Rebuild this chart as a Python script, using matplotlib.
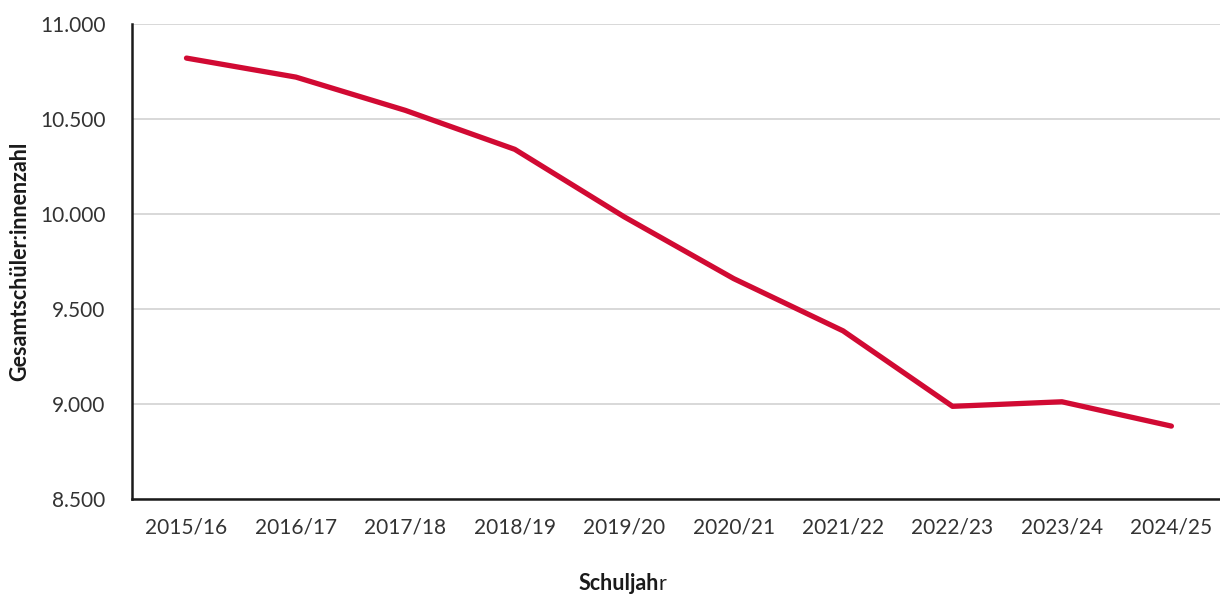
import matplotlib
matplotlib.use('Agg')
import matplotlib.pyplot as plt
from matplotlib.ticker import FuncFormatter

# Schuljahre und Gesamtschüler:innenzahl
school_years = ['2015/16', '2016/17', '2017/18', '2018/19', '2019/20',
                '2020/21', '2021/22', '2022/23', '2023/24', '2024/25']
students = [10820, 10720, 10545, 10340, 9985, 9660, 9385, 8988, 9012, 8884]
y_ticks = [8500, 9000, 9500, 10000, 10500, 11000]

plt.rcParams['font.family'] = ['Lato', 'DejaVu Sans']

fig = plt.figure(figsize=(12.2, 5.97), dpi=100)
ax = fig.add_axes([0.108, 0.164, 0.897, 0.796])

x = list(range(len(school_years)))
ax.plot(x, students, color='#D10A33', linewidth=3.8, solid_capstyle='round',
        solid_joinstyle='round', zorder=3)

ax.set_xlim(-0.5, len(school_years) - 0.5)
ax.set_ylim(y_ticks[0], y_ticks[-1])
ax.set_yticks(y_ticks)
ax.yaxis.set_major_formatter(FuncFormatter(lambda v, p: f'{int(v):,}'.replace(',', '.')))
ax.set_xticks(x)
ax.set_xticklabels(school_years)

ax.grid(axis='y', color='#d6d6d6', linewidth=1.3, zorder=0)
ax.set_axisbelow(True)
for side in ['top', 'right']:
    ax.spines[side].set_visible(False)
for side in ['left', 'bottom']:
    ax.spines[side].set_linewidth(1.8)
    ax.spines[side].set_color('#1a1a1a')

ax.tick_params(axis='both', length=0, labelsize=15, colors='#333333', labelcolor='#333333')
ax.tick_params(axis='x', pad=13)
ax.tick_params(axis='y', pad=19)

ax.set_ylabel('Gesamtschüler:innenzahl', fontsize=15.5, fontweight='bold', color='#1a1a1a')
ax.yaxis.set_label_coords(-0.093, 0.5)

# x-Achsentitel: "Schuljah" fett, "r" normal
t = fig.text(0.4745, 0.012, 'Schuljah', fontsize=15.5, fontweight='bold', color='#1a1a1a',
             ha='left', va='baseline')
fig.canvas.draw()
ax.annotate('r', xy=(1, 0), xycoords=t, xytext=(-0.5, 0), textcoords='offset points',
            fontsize=15.5, color='#1a1a1a', ha='left', va='bottom')

fig.savefig('out.png', dpi=100)
